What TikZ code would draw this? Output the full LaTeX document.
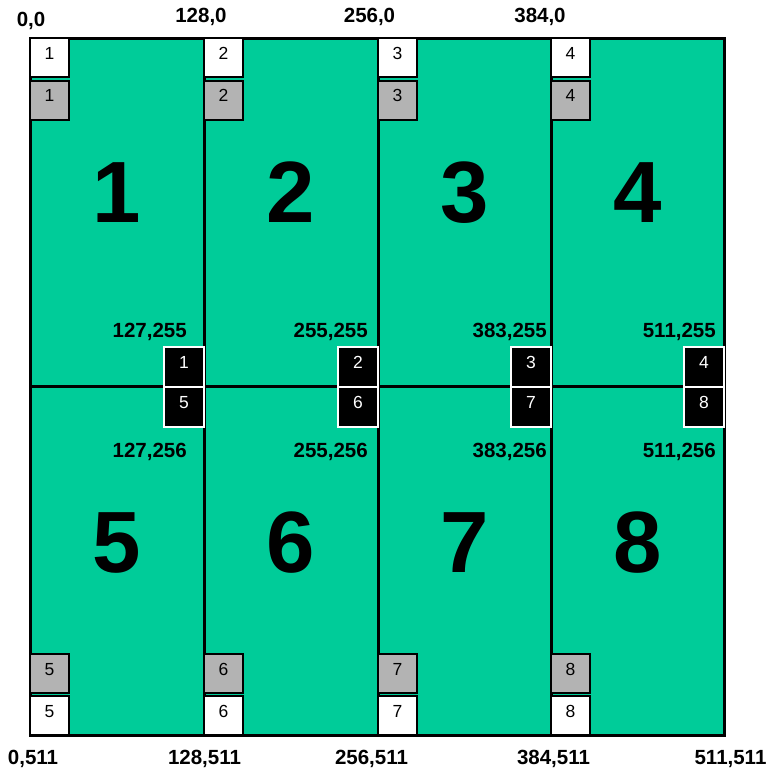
\documentclass[tikz,border=0pt]{standalone}
\usepackage{fontspec}
\setmainfont{Liberation Sans}
\definecolor{tilegreen}{RGB}{0,204,153}
\definecolor{boxgray}{RGB}{179,179,179}
\begin{document}
\begin{tikzpicture}[x=1pt,y=-1pt,
  coord/.style={font=\bfseries\fontsize{20.5}{20.5}\selectfont, inner sep=0pt, anchor=base},
  coordr/.style={coord, anchor=base east},
  big/.style={font=\bfseries\fontsize{87}{87}\selectfont, inner sep=0pt, anchor=base},
  sbox/.style={draw=black, line width=2pt, minimum width=39pt, minimum height=39pt,
    inner sep=0pt, text height=12.5pt, text depth=9pt, font=\fontsize{17.5}{17.5}\selectfont},
  wbox/.style={sbox, fill=white},
  gbox/.style={sbox, fill=boxgray},
  kbox/.style={sbox, fill=black, draw=white, text=white, minimum width=40pt, minimum height=40pt},
  tile/.style={draw=black, line width=3pt, fill=tilegreen}]
\useasboundingbox (0,0) rectangle (770,772);

% tiles
\foreach \xa/\xb [count=\i] in {30/204,204/378,378/551,551/724}{
  \filldraw[tile] (\xa,38) rectangle (\xb,386.5);
  \filldraw[tile] (\xa,386.5) rectangle (\xb,735);
}

% big numbers
\node[big] (n1) at (117,222) {1};
\node[big] (n2) at (291,222) {2};
\node[big] (n3) at (464.5,222) {3};
\node[big] (n4) at (637.5,222) {4};
\node[big] (n5) at (117,572) {5};
\node[big] (n6) at (291,572) {6};
\node[big] (n7) at (464.5,572) {7};
\node[big] (n8) at (637.5,572) {8};

% top small boxes
\foreach \x [count=\i] in {30,204,378,551}{
  \node[wbox] (tw\i) at (\x+19.5,57.5) {\i};
  \node[gbox] (tg\i) at (\x+19.5,100) {\i};
}
% bottom small boxes
\foreach \x/\n in {30/5,204/6,378/7,551/8}{
  \node[gbox] (bg\n) at (\x+19.5,673.5) {\n};
  \node[wbox] (bw\n) at (\x+19.5,715.5) {\n};
}
% black boxes on the middle line
\foreach \x/\u/\l in {204/1/5,378/2/6,551/3/7,724/4/8}{
  \node[kbox] (ku\u) at (\x-20,366.5) {\u};
  \node[kbox] (kl\l) at (\x-20,406.5) {\l};
}

% coordinate labels
\node[coord] (c00) at (31,26) {0,0};
\node[coord] (c1280) at (201,22) {128,0};
\node[coord] (c2560) at (369.5,22) {256,0};
\node[coord] (c3840) at (540,22) {384,0};

\node[coordr] (m1a) at (187,337) {127,255};
\node[coordr] (m2a) at (368,337) {255,255};
\node[coordr] (m3a) at (547,337) {383,255};
\node[coordr] (m4a) at (716,337) {511,255};
\node[coordr] (m1b) at (187,457) {127,256};
\node[coordr] (m2b) at (368,457) {255,256};
\node[coordr] (m3b) at (547,457) {383,256};
\node[coordr] (m4b) at (716,457) {511,256};

\node[coord] (b0) at (33,764) {0,511};
\node[coord] (b1) at (204.5,764) {128,511};
\node[coord] (b2) at (371.5,764) {256,511};
\node[coord] (b3) at (553.5,764) {384,511};
\node[coord] (b4) at (730.5,764) {511,511};
\end{tikzpicture}
\end{document}
